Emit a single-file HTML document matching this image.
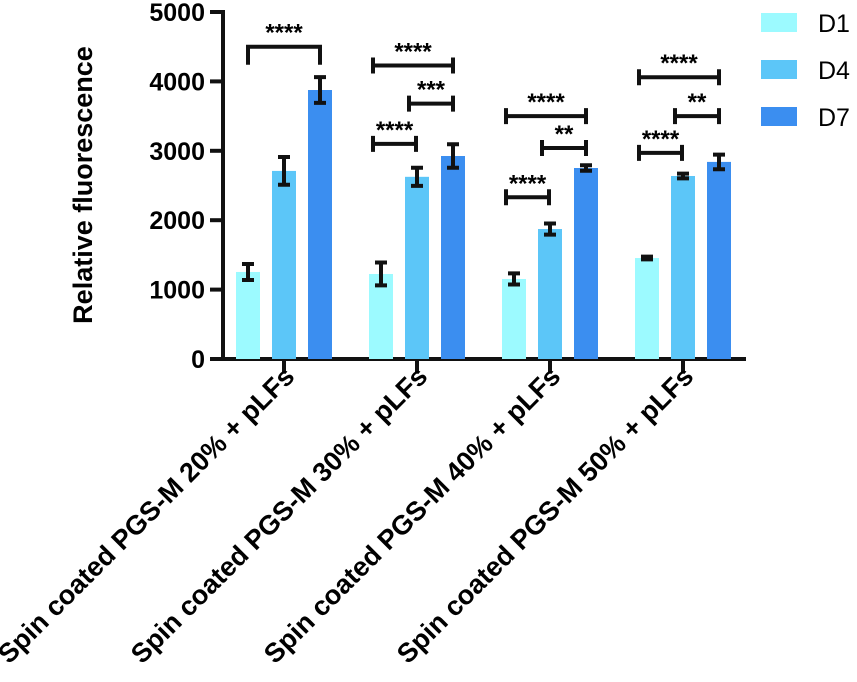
<!DOCTYPE html>
<html><head><meta charset="utf-8"><style>
body{margin:0;background:#fff;}
svg text{font-family:"Liberation Sans",Arial,sans-serif;font-weight:bold;fill:#000;}
</style></head><body>
<svg id="chart" width="857" height="677" viewBox="0 0 857 677" xmlns="http://www.w3.org/2000/svg">
<g id="axes"></g><g id="bars"></g><g id="sig"></g><g id="legend"></g>
</svg>
<script>
const categories=["Spin coated PGS-M 20% + pLFs","Spin coated PGS-M 30% + pLFs","Spin coated PGS-M 40% + pLFs","Spin coated PGS-M 50% + pLFs"];
const seriesNames=["D1","D4","D7"];
const d1=[1254,1225,1153,1455];
const d4=[2710,2625,1873,2637];
const d7=[3876,2925,2752,2840];
const d1Err=[115,165,80,20];
const d4Err=[200,130,80,35];
const d7Err=[185,170,40,105];
const yTicks=[0,1000,2000,3000,4000,5000];
const colors=["#9cfaff","#5cc6f8","#3b8ef0"];
// significance: [group, fromSeries, toSeries, valueLevel, label]
const sigBrackets=[[0,0,2,4500,"****"],[1,0,2,4230,"****"],[1,1,2,3680,"***"],[1,0,1,3100,"****"],[2,0,2,3500,"****"],[2,1,2,3040,"**"],[2,0,1,2330,"****"],[3,0,2,4060,"****"],[3,1,2,3500,"**"],[3,0,1,2970,"****"]];

const NS="http://www.w3.org/2000/svg";
function mk(tag,attrs,parent,txt){const e=document.createElementNS(NS,tag);for(const k in attrs)e.setAttribute(k,attrs[k]);if(txt!==undefined)e.textContent=txt;parent.appendChild(e);return e;}
const y=v=>359-v*0.0694;
const gx=i=>284+i*133;
const bx=(i,s)=>gx(i)+(s-1)*36;
const axes=document.getElementById('axes'),bars=document.getElementById('bars'),sig=document.getElementById('sig'),leg=document.getElementById('legend');
const K="#111";
let l=mk('line',{x1:223,y1:y(5000)-2,x2:223,y2:361,stroke:K,'stroke-width':4},axes);

l=mk('line',{x1:221,y1:359,x2:746,y2:359,stroke:K,'stroke-width':4},axes);

yTicks.forEach(t=>{
 let tk=mk('line',{x1:210,y1:y(t),x2:223,y2:y(t),stroke:K,'stroke-width':4},axes);
 
 let tl=mk('text',{x:205,y:y(t)+9,'text-anchor':'end','font-size':25},axes,String(t));
 
});
let yt=mk('text',{x:0,y:0,transform:'translate(92,185) rotate(-90)','text-anchor':'middle','font-size':27},axes,'Relative fluorescence');

categories.forEach((c,i)=>{
 let tk=mk('line',{x1:gx(i),y1:359,x2:gx(i),y2:372,stroke:K,'stroke-width':4},axes);
 
 let tl=mk('text',{x:0,y:0,transform:`translate(${gx(i)+12},378) rotate(-45)`,'text-anchor':'end','font-size':27},axes,c);
 
});
const vals=[d1,d4,d7],errs=[d1Err,d4Err,d7Err];
vals.forEach((arr,s)=>arr.forEach((v,i)=>{
 const cx=bx(i,s);
 let r=mk('rect',{x:cx-12,y:y(v),width:24,height:y(0)-y(v),fill:colors[s]},bars);
 
 const e=errs[s][i];
 let g=mk('path',{d:`M${cx} ${y(v+e)}V${y(v-e)}M${cx-6} ${y(v+e)}H${cx+6}M${cx-6} ${y(v-e)}H${cx+6}`,stroke:K,'stroke-width':4,fill:'none'},bars);
 
}));
sigBrackets.forEach(b=>{
 const [gi,a,c,lv,lab]=b;let x1=bx(gi,a)-8,x2=bx(gi,c);
 if(c===1)x2=bx(gi,c)-1;
 const yy=y(lv);let d;
 if(gi===0){x1=bx(gi,a);d=`M${x1} ${yy+18}V${yy}H${x2}V${yy+18}`;}
 else d=`M${x1} ${yy-8}V${yy+8}M${x1} ${yy}H${x2}M${x2} ${yy-8}V${yy+8}`;
 let p=mk('path',{d:d,stroke:K,'stroke-width':4,fill:'none'},sig);
 
 let t=mk('text',{x:(x1+x2)/2,y:yy-6,'text-anchor':'middle','font-size':24},sig,lab);
 
});
seriesNames.forEach((n,s)=>{
 let r=mk('rect',{x:761,y:13+s*47,width:36,height:19,fill:colors[s]},leg);
 
 let t=mk('text',{x:818,y:32+s*47,'font-size':25,style:'font-weight:normal'},leg,n);
 
});
</script>
</body></html>
